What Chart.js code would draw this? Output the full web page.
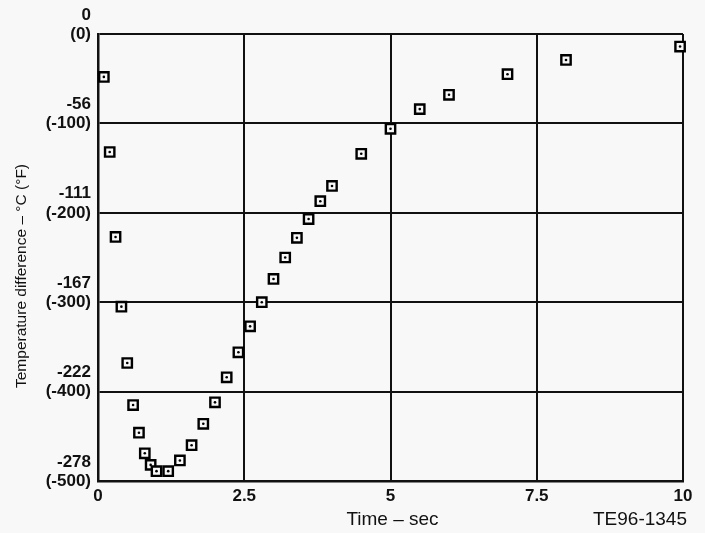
<!DOCTYPE html>
<html>
<head>
<meta charset="utf-8">
<script src="https://cdn.jsdelivr.net/npm/chart.js@4/dist/chart.umd.min.js"></script>
<style>
  html, body { margin: 0; padding: 0; background: #f8f8f8; }
  #wrap { width: 705px; height: 533px; }
</style>
</head>
<body>
<div id="wrap"><canvas id="c" width="705" height="533"></canvas></div>
<script>
// Data (time in s, temperature difference in °F)
const timeSec = [0.1, 0.2, 0.3, 0.4, 0.5, 0.6, 0.7, 0.8, 0.9, 1.0, 1.2, 1.4, 1.6, 1.8, 2.0, 2.2, 2.4, 2.6, 2.8, 3.0, 3.2, 3.4, 3.6, 3.8, 4.0, 4.5, 5.0, 5.5, 6.0, 7.0, 8.0, 9.95];
const tempDiffF = [-48, -132, -227, -305, -368, -415, -446, -469, -482, -489, -489, -477, -460, -436, -412, -384, -356, -327, -300, -274, -250, -228, -207, -187, -170, -134, -106, -84, -68, -45, -29, -14];
const yTickValuesF = [0, -100, -200, -300, -400, -500];
const yTickLabelsC = ['0', '-56', '-111', '-167', '-222', '-278'];
const yTickLabelsF = ['(0)', '(-100)', '(-200)', '(-300)', '(-400)', '(-500)'];
const xTickLabels = ['0', '2.5', '5', '7.5', '10'];
const xTitle = 'Time \u2013 sec';
const yTitle = 'Temperature difference \u2013 \u00B0C (\u00B0F)';
const figId = 'TE96-1345';

const points = timeSec.map((t, i) => ({ x: t, y: tempDiffF[i] }));

const bgPlugin = {
  id: 'bg',
  beforeDraw(chart) {
    const ctx = chart.ctx;
    ctx.save();
    ctx.fillStyle = '#f8f8f8';
    ctx.fillRect(0, 0, chart.width, chart.height);
    ctx.restore();
  }
};

const textPlugin = {
  id: 'texts',
  afterDraw(chart) {
    const ctx = chart.ctx;
    const a = chart.chartArea;
    ctx.save();
    ctx.fillStyle = '#111';
    ctx.textBaseline = 'middle';
    ctx.font = '19px "Liberation Sans", Arial, sans-serif';
    ctx.textAlign = 'center';
    ctx.fillText(xTitle, (a.left + a.right) / 2 + 2, 520);
    ctx.textAlign = 'right';
    ctx.fillText(figId, 687, 520);
    ctx.translate(22, 276);
    ctx.rotate(-Math.PI / 2);
    ctx.textAlign = 'center';
    ctx.font = '15.5px "Liberation Sans", Arial, sans-serif';
    ctx.fillText(yTitle, 0, 0);
    ctx.restore();
  }
};

new Chart(document.getElementById('c'), {
  type: 'scatter',
  data: {
    datasets: [
      {
        data: points,
        order: 0,
        pointStyle: 'circle',
        pointRadius: 1.3,
        pointHoverRadius: 1.3,
        pointBorderWidth: 0,
        pointBackgroundColor: '#000',
        clip: false
      },
      {
        data: points,
        order: 1,
        pointStyle: 'rect',
        pointRadius: 6.6,
        pointHoverRadius: 6.6,
        pointBorderWidth: 2.4,
        pointBorderColor: '#000',
        pointBackgroundColor: '#f8f8f8',
        clip: false
      }
    ]
  },
  options: {
    responsive: false,
    animation: false,
    events: [],
    layout: { padding: { top: 34, right: 22, left: 0, bottom: 0 } },
    plugins: { legend: { display: false }, tooltip: { enabled: false } },
    scales: {
      x: {
        type: 'linear',
        min: 0,
        max: 10,
        afterFit(s) { s.height = 52; },
        afterBuildTicks(s) { s.ticks = xTickLabels.map((l, i) => ({ value: i * 2.5 })); },
        ticks: {
          padding: 5,
          color: '#111',
          font: { family: '"Liberation Sans", Arial, sans-serif', size: 17, weight: 'bold' },
          callback: (v, i) => xTickLabels[i],
          maxRotation: 0,
          autoSkip: false
        },
        grid: { color: '#111', lineWidth: 2, drawTicks: false },
        border: { color: '#111', width: 2.5 }
      },
      y: {
        type: 'linear',
        min: -500,
        max: 0,
        afterFit(s) { s.width = 98; },
        afterBuildTicks(s) { s.ticks = yTickValuesF.map(v => ({ value: v })); },
        ticks: {
          padding: 7,
          color: '#111',
          labelOffset: -9.5,
          font: { family: '"Liberation Sans", Arial, sans-serif', size: 17, weight: 'bold', lineHeight: 1.12 },
          callback: (v) => {
            const i = yTickValuesF.indexOf(v);
            return [yTickLabelsC[i], yTickLabelsF[i]];
          },
          autoSkip: false
        },
        grid: { color: '#111', lineWidth: 2, drawTicks: false },
        border: { color: '#111', width: 2.5 }
      }
    }
  },
  plugins: [bgPlugin, textPlugin]
});
</script>
</body>
</html>
